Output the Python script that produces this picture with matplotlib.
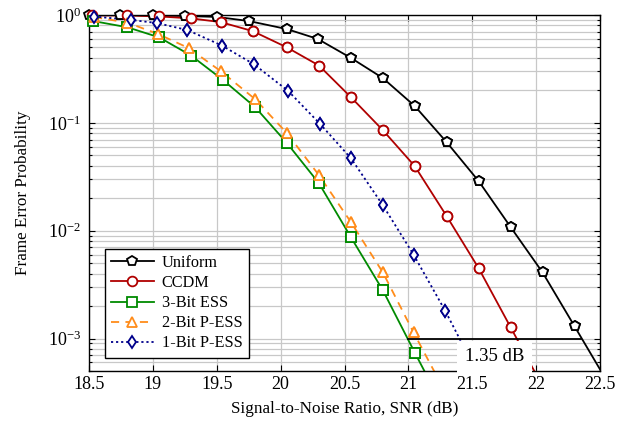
import numpy as np
import matplotlib
matplotlib.use("Agg")
import matplotlib.pyplot as plt
from matplotlib.ticker import FixedLocator, FormatStrFormatter, LogLocator, NullFormatter

plt.rcParams['font.family'] = ['Liberation Serif', 'DejaVu Serif']
plt.rcParams['mathtext.fontset'] = 'stix'

# values
snr_uniform = [18.5, 18.74, 19.0, 19.25, 19.5, 19.75, 20.05, 20.29, 20.55, 20.8,
               21.05, 21.3, 21.55, 21.8, 22.05, 22.3, 22.55]
fep_uniform = [1.0, 1.0, 0.99, 0.98, 0.96, 0.88, 0.74, 0.60, 0.40, 0.26,
               0.143, 0.066, 0.0288, 0.0108, 0.0041, 0.0013, 4.1e-4]

snr_ccdm = [18.52, 18.8, 19.05, 19.3, 19.53, 19.78, 20.05, 20.3, 20.55, 20.8,
            21.05, 21.3, 21.55, 21.8, 22.05]
fep_ccdm = [0.99, 0.99, 0.97, 0.93, 0.86, 0.71, 0.50, 0.34, 0.173, 0.0855,
            0.0396, 0.0136, 0.00448, 0.00127, 3.6e-4]

snr_ess3 = [18.53, 18.8, 19.05, 19.3, 19.55, 19.8, 20.05, 20.3, 20.55, 20.8, 21.05, 21.3]
fep_ess3 = [0.88, 0.77, 0.62, 0.42, 0.249, 0.140, 0.0648, 0.0275, 0.0087, 0.0028, 7.4e-4, 2e-4]

snr_pess2 = [18.54, 18.8, 19.04, 19.28, 19.53, 19.8, 20.05, 20.3, 20.55, 20.8, 21.04, 21.3]
fep_pess2 = [0.958, 0.85, 0.667, 0.494, 0.302, 0.166, 0.080, 0.0327, 0.0120, 0.0041, 0.00114, 3e-4]

snr_pess1 = [18.54, 18.83, 19.03, 19.27, 19.54, 19.79, 20.06, 20.31, 20.55, 20.8,
             21.04, 21.29, 21.55]
fep_pess1 = [0.968, 0.90, 0.843, 0.726, 0.521, 0.35, 0.197, 0.0973, 0.047, 0.0172,
             0.0060, 0.00179, 4.5e-4]

x_ticks = [18.5, 19, 19.5, 20, 20.5, 21, 21.5, 22, 22.5]
gap_start, gap_end, gap_level = 21.0, 22.35, 1e-3
gap_text = "1.35 dB"

# (x, y, label, colour, marker, marker size, line style)
series = [
    (snr_uniform, fep_uniform, "Uniform", "black", "p", 7, "-"),
    (snr_ccdm, fep_ccdm, "CCDM", "#b00000", "o", 7, "-"),
    (snr_ess3, fep_ess3, "3-Bit ESS", "#008a00", "s", 6.5, "-"),
    (snr_pess2, fep_pess2, "2-Bit P-ESS", "#ff8c1a", "^", 7, (0, (4.5, 3.5))),
    (snr_pess1, fep_pess1, "1-Bit P-ESS", "#00008b", "d", 6.5, (0, (1.2, 1.6))),
]

fig = plt.figure(figsize=(6.18, 4.24), dpi=100)
ax = fig.add_axes([0.144, 0.125, 0.827, 0.8396])
ymin, ymax = 5e-4, 1.0

for x, y, label, color, marker, ms, ls in series:
    ax.plot(x, y, color=color, linestyle=ls, linewidth=1.3, marker=marker,
            markersize=ms, markerfacecolor="white",
            markeredgecolor=color, markeredgewidth=1.3, label=label)
    # markers near the frame are not clipped in the original
    xs = [a for a, b in zip(x, y) if b >= ymin]
    ys = [b for b in y if b >= ymin]
    ax.plot(xs, ys, linestyle="none", marker=marker,
            markersize=ms, markerfacecolor="white",
            markeredgecolor=color, markeredgewidth=1.3, clip_on=False, zorder=3)

ax.plot([gap_start, gap_end], [gap_level, gap_level], color="black", linewidth=1.3, zorder=4)
ax.text((gap_start + gap_end) / 2, 6.75e-4, gap_text, ha="center", va="center",
        fontsize=13.5, zorder=5,
        bbox=dict(boxstyle="square,pad=0.4", facecolor="white", edgecolor="none"))

ax.set_yscale("log")
ax.set_xlim(18.5, 22.5)
ax.set_ylim(ymin, ymax)
ax.xaxis.set_major_locator(FixedLocator(x_ticks))
ax.xaxis.set_major_formatter(FormatStrFormatter("%g"))
ax.yaxis.set_major_locator(LogLocator(base=10, numticks=10))
ax.yaxis.set_minor_locator(LogLocator(base=10, subs=np.arange(2, 10), numticks=20))
ax.yaxis.set_minor_formatter(NullFormatter())

ax.grid(True, which="major", color="#c8c8c8", linewidth=0.9)
ax.grid(True, which="minor", axis="y", color="#c8c8c8", linewidth=0.9)
ax.set_axisbelow(True)
ax.tick_params(which="both", direction="in", top=True, right=True, labelsize=13)
ax.tick_params(axis="y", which="major", pad=6)
ax.tick_params(which="major", length=4, width=0.8)
ax.tick_params(which="minor", length=2.5, width=0.8)
for s in ax.spines.values():
    s.set_linewidth(1.0)

ax.set_xlabel("Signal-to-Noise Ratio, SNR (dB)", fontsize=12.3, labelpad=6)
ax.set_ylabel("Frame Error Probability", fontsize=12.3, labelpad=12)

leg = ax.legend(loc="lower left", bbox_to_anchor=(0.031, 0.037), borderaxespad=0,
                fontsize=11.7, fancybox=False, edgecolor="black", framealpha=1,
                handlelength=2.6, labelspacing=0.25, borderpad=0.4, handletextpad=0.5)
leg.get_frame().set_linewidth(1.0)

fig.savefig("out.png", dpi=100)
